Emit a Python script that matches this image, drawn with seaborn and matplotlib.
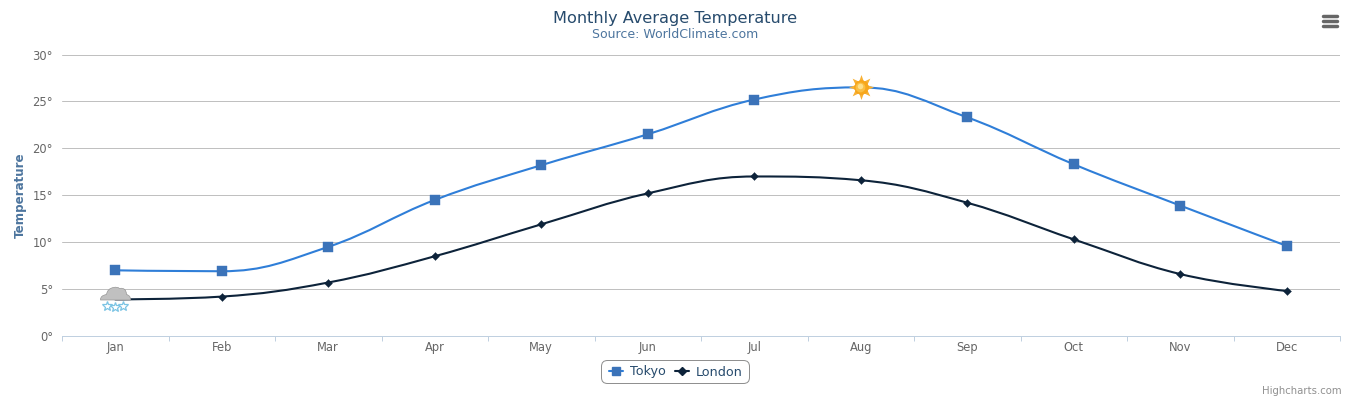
import numpy as np
import pandas as pd
import matplotlib
matplotlib.use("Agg")
import matplotlib.pyplot as plt
import seaborn as sns
from matplotlib.path import Path
from matplotlib.patches import PathPatch, FancyBboxPatch
from matplotlib.lines import Line2D
from matplotlib.transforms import offset_copy, IdentityTransform
from matplotlib.ticker import FuncFormatter

months = ["Jan", "Feb", "Mar", "Apr", "May", "Jun", "Jul", "Aug", "Sep", "Oct", "Nov", "Dec"]
tokyo = [7.0, 6.9, 9.5, 14.5, 18.2, 21.5, 25.2, 26.5, 23.3, 18.3, 13.9, 9.6]
london = [3.9, 4.2, 5.7, 8.5, 11.9, 15.2, 17.0, 16.6, 14.2, 10.3, 6.6, 4.8]

TOKYO_C = "#2f7ed8"
TOKYO_M = "#3b73b9"
LONDON_C = "#0d233a"
W, H = 1352, 400

sns.set_theme(style="white")
plt.rcParams["font.family"] = ["DejaVu Sans"]

fig = plt.figure(figsize=(W / 100, H / 100), dpi=100, facecolor="white")
ax = fig.add_axes([62 / W, 1 - 336 / H, (1340 - 62) / W, (336 - 54.5) / H])


def spline_path(ys):
    """Highcharts-style spline through the series values."""
    xs = list(range(len(ys)))
    verts = [(xs[0], ys[0])]
    codes = [Path.MOVETO]
    conts = []
    for i in range(len(ys)):
        if i == 0 or i == len(ys) - 1:
            conts.append(((xs[i], ys[i]), (xs[i], ys[i])))
            continue
        lx = (1.5 * xs[i] + xs[i - 1]) / 2.5
        ly = (1.5 * ys[i] + ys[i - 1]) / 2.5
        rx = (1.5 * xs[i] + xs[i + 1]) / 2.5
        ry = (1.5 * ys[i] + ys[i + 1]) / 2.5
        c = (ry - ly) * (rx - xs[i]) / (rx - lx) + ys[i] - ry
        ly += c
        ry += c
        if ly > ys[i - 1] and ly > ys[i]:
            ly = max(ys[i - 1], ys[i])
            ry = 2 * ys[i] - ly
        elif ly < ys[i - 1] and ly < ys[i]:
            ly = min(ys[i - 1], ys[i])
            ry = 2 * ys[i] - ly
        if ry > ys[i + 1] and ry > ys[i]:
            ry = max(ys[i + 1], ys[i])
            ly = 2 * ys[i] - ry
        elif ry < ys[i + 1] and ry < ys[i]:
            ry = min(ys[i + 1], ys[i])
            ly = 2 * ys[i] - ry
        conts.append(((lx, ly), (rx, ry)))
    for i in range(1, len(ys)):
        verts += [conts[i - 1][1], conts[i][0], (xs[i], ys[i])]
        codes += [Path.CURVE4] * 3
    return Path(verts, codes)


for ys, col in ((tokyo, TOKYO_C), (london, LONDON_C)):
    ax.add_patch(PathPatch(spline_path(ys), fc="none", ec=col, lw=1.5, zorder=3, capstyle="round"))

df = pd.DataFrame({"month": months, "Tokyo": tokyo, "London": london})
df["pos"] = range(len(df))
tk = df[df.month != "Aug"]
ld = df[df.month != "Jan"]
sns.scatterplot(data=tk, x="pos", y="Tokyo", marker="s", s=46, color=TOKYO_M,
                edgecolor=TOKYO_M, linewidth=0.3, ax=ax, zorder=4, legend=False)
sns.scatterplot(data=ld, x="pos", y="London", marker="D", s=17, color=LONDON_C,
                edgecolor=LONDON_C, linewidth=0.2, ax=ax, zorder=4, legend=False)


def px_offset(dx, dy):
    return offset_copy(ax.transData, fig=fig, x=dx, y=-dy, units="dots")


# sun symbol on Tokyo's August point
sx, sy = months.index("Aug"), tokyo[months.index("Aug")]
ax.plot([sx], [sy], marker=(8, 1, 0), ms=18, mfc="#f8b134", mec="none", zorder=5, ls="none")
ax.plot([sx], [sy], marker="o", ms=10, mfc="#f7a81b", mec="#f59b12", mew=0.3, zorder=6, ls="none")
ax.plot([sx], [sy], marker="o", ms=7, mfc="#fabf45", mec="none", zorder=6, ls="none",
        transform=px_offset(-0.5, -0.5))
ax.plot([sx], [sy], marker="o", ms=4, mfc="#fde08a", mec="none", zorder=6, ls="none",
        transform=px_offset(-1, -1))

# snow-cloud symbol on London's January point
cx, cy = months.index("Jan"), london[months.index("Jan")]
cloud_v = [(-15, 0), (-15, -4), (-9, -5), (-8, -11), (-2, -12), (2, -13), (4, -11), (8, -12), (10, -9),
           (11, -7), (11, -5), (15, -4), (15, 0), (15, 0.5), (-15, 0.5), (-15, 0)]
cloud_c = [Path.MOVETO] + [Path.CURVE3] * 12 + [Path.LINETO, Path.LINETO, Path.CLOSEPOLY]
cloud = Path([(x, -y) for x, y in cloud_v], cloud_c)
ax.plot([cx], [cy], marker=cloud, ms=15 * 2 * 0.72, mfc="#c0c0c0", mec="#969696", mew=0.5,
        ls="none", zorder=5)
for dx, dy in [(-8, 6.5), (0, 7.5), (7.5, 6.5)]:
    ax.plot([cx], [cy], marker="*", ms=7, mfc="white", mec="#7cc4e4", mew=0.9, ls="none", zorder=5,
            transform=px_offset(dx, dy))

ax.set_xlim(-0.5, 11.5)
ax.set_ylim(0, 30)
ax.set_xlabel("")
ax.set_ylabel("")
ax.set_xticks(np.arange(-0.5, 12, 1))
ax.set_xticklabels([])
ax.set_xticks(df["pos"], labels=months, minor=True)
ax.tick_params(axis="x", which="major", length=3.6, width=0.72, color="#c0d0e0", bottom=True)
ax.tick_params(axis="x", which="minor", length=0, pad=3.6, labelsize=8.3, labelcolor="#666666", bottom=False)
ax.set_yticks(range(0, 31, 5))
ax.yaxis.set_major_formatter(FuncFormatter(lambda v, _: f"{int(v)}°"))
ax.tick_params(axis="y", length=0, pad=6.5, labelsize=8.3, labelcolor="#666666")
ax.grid(axis="y", color="#c0c0c0", lw=0.72)
ax.grid(axis="x", visible=False)
ax.set_axisbelow(True)
for s in ("top", "right", "left"):
    ax.spines[s].set_visible(False)
ax.spines["bottom"].set_color("#c0d0e0")
ax.spines["bottom"].set_linewidth(0.72)

fig.text(675 / W, 1 - 18.5 / H, "Monthly Average Temperature", ha="center", va="center",
         fontsize=11.6, color="#274b6d")
fig.text(675 / W, 1 - 34.5 / H, "Source: WorldClimate.com", ha="center", va="center",
         fontsize=9, color="#4d759e")
fig.text(20 / W, 1 - 195 / H, "Temperature", rotation=90, ha="center", va="center",
         fontsize=8.6, fontweight="bold", color="#4d759e")
fig.text(1342 / W, 1 - 391 / H, "Highcharts.com", ha="right", va="center", fontsize=7.3, color="#909090")

# legend
fig.add_artist(FancyBboxPatch((601.5, H - 383.5), 148, 23, boxstyle="round,pad=0,rounding_size=6",
                              fc="white", ec="#909090", lw=0.72, transform=IdentityTransform(), zorder=1))
handles = [
    Line2D([], [], color=TOKYO_C, lw=1.5, marker="s", ms=6.4, mfc=TOKYO_M, mec=TOKYO_M, label="Tokyo"),
    Line2D([], [], color=LONDON_C, lw=1.5, marker="D", ms=3.8, mfc=LONDON_C, mec=LONDON_C, label="London"),
]
leg = fig.legend(handles=handles, loc="center", bbox_to_anchor=(675.5 / W, 1 - 372 / H), ncol=2, frameon=False,
                 fontsize=9.2, labelcolor="#274b6d", handlelength=1.15, handletextpad=0.48, columnspacing=0.72,
                 borderpad=0.4, borderaxespad=0)
leg.set_zorder(5)

# export menu icon
for yc in (15.5, 20.5, 25.5):
    fig.add_artist(Line2D([1322.5 / W, 1336.5 / W], [1 - yc / H, 1 - yc / H], color="#666666", lw=2.5,
                          solid_capstyle="round", transform=fig.transFigure))

fig.savefig("out.png", dpi=100, facecolor="white")
